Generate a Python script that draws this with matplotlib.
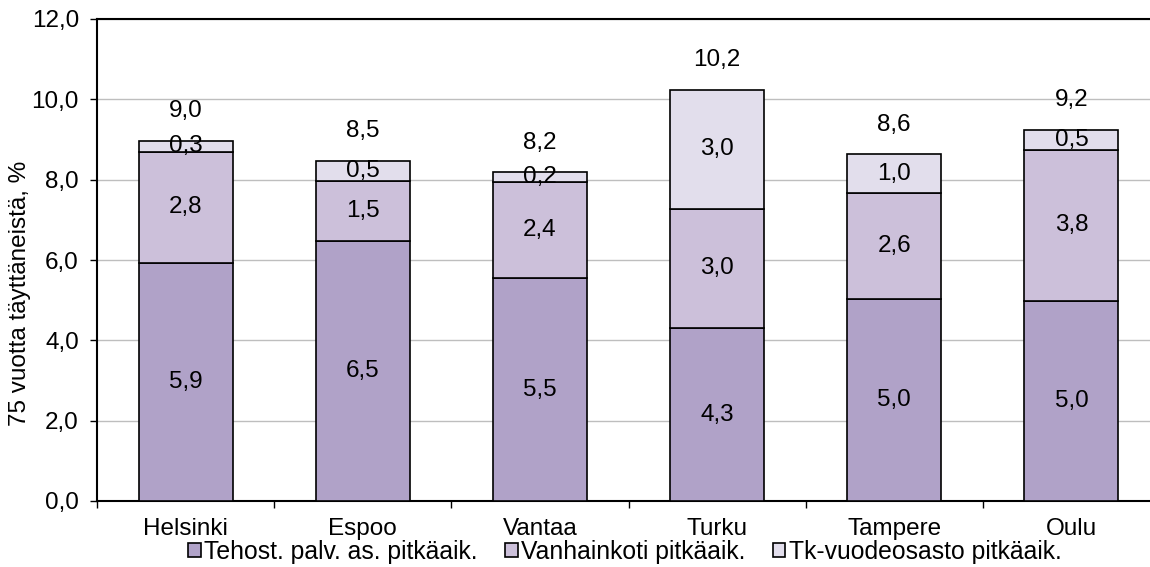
import matplotlib.pyplot as plt
import numpy as np

plt.rcParams['font.family'] = ['Liberation Sans', 'DejaVu Sans']

# data
cities = ['Helsinki', 'Espoo', 'Vantaa', 'Turku', 'Tampere', 'Oulu']
tehost = [5.92, 6.48, 5.54, 4.30, 5.02, 4.97]
vanhainkoti = [2.78, 1.49, 2.40, 2.98, 2.64, 3.78]
tk_osasto = [0.27, 0.49, 0.24, 2.96, 0.97, 0.48]
series_names = ['Tehost. palv. as. pitkäaik.', 'Vanhainkoti pitkäaik.', 'Tk-vuodeosasto pitkäaik.']
colors = ['#B0A2C8', '#CCC0DA', '#E2DEEC']
yticks = [0, 2, 4, 6, 8, 10, 12]

FS = 17.5

def fi(v):
    return f'{v:.1f}'.replace('.', ',')

fig = plt.figure(figsize=(11.5, 5.67), dpi=100)
ax = fig.add_axes([97 / 1150, 1 - 501 / 567, (1160 - 97) / 1150, (501 - 19) / 567])

x = np.arange(len(cities))
bottom = np.zeros(len(cities))
for vals, name, col in zip([tehost, vanhainkoti, tk_osasto], series_names, colors):
    vals = np.array(vals)
    ax.bar(x, vals, 0.53, bottom=bottom, color=col, edgecolor='black', linewidth=1.2,
           label=name, zorder=3)
    for xi, b, v in zip(x, bottom, vals):
        ax.text(xi, b + v / 2, fi(v), ha='center', va='center', fontsize=FS, zorder=4)
    bottom += vals

for xi, t in zip(x, bottom):
    ax.annotate(fi(t), (xi, t), xytext=(0, 21.5), textcoords='offset points',
                ha='center', va='center', fontsize=FS)

ax.set_xlim(-0.5, len(cities) - 0.5)
ax.set_ylim(0, 12)
ax.set_yticks(yticks)
ax.set_yticklabels([fi(v) for v in yticks], fontsize=FS)
ax.set_xticks(np.arange(len(cities) + 1) - 0.5)
ax.set_xticklabels([])
ax.set_xticks(x, minor=True)
ax.set_xticklabels(cities, minor=True, fontsize=FS)
ax.tick_params(axis='x', which='major', direction='out', length=5, width=1)
ax.tick_params(axis='x', which='minor', length=0, pad=12)
ax.tick_params(axis='y', direction='out', length=5, width=1, pad=8)
ax.grid(axis='y', color='#BEBEBE', linewidth=1, zorder=0)
ax.set_axisbelow(True)
for s in ax.spines.values():
    s.set_linewidth(1.5)
    s.set_color('black')

ax.set_ylabel('75 vuotta täyttäneistä, %', fontsize=FS)
ax.yaxis.set_label_coords(-0.062, 0.43)

leg = fig.legend(loc='center', bbox_to_anchor=(625 / 1150, 1 - 552 / 567), ncol=3,
                 frameon=False, fontsize=17.8, handlelength=0.5, handleheight=0.5,
                 handletextpad=0.15, columnspacing=1.1, borderpad=0)
for h in leg.legend_handles:
    h.set_linewidth(1.2)

fig.savefig('out.png', dpi=100)
